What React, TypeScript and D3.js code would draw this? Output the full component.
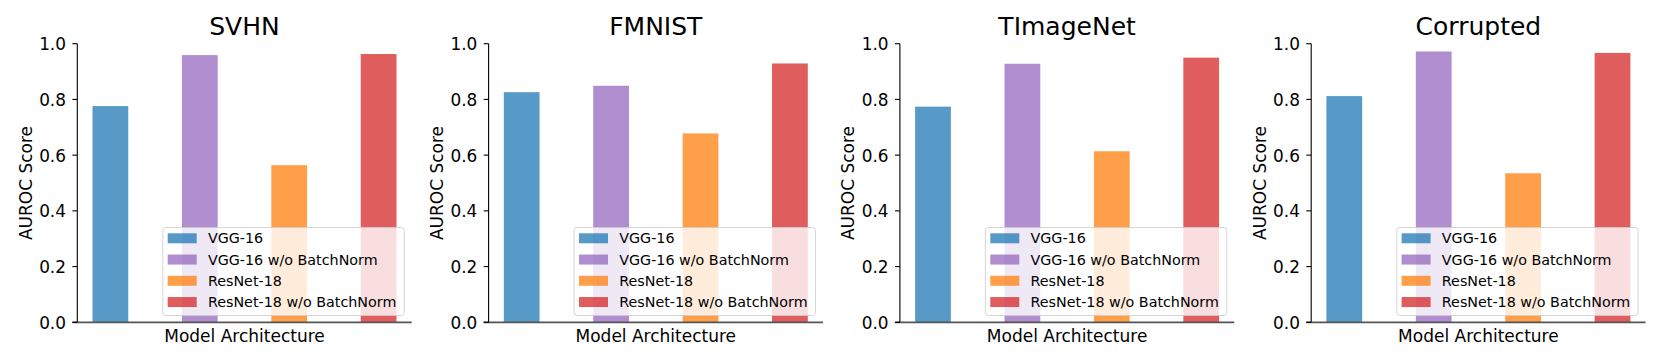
import React, { useEffect } from 'react';
import * as d3 from 'd3';

// datasets (one subplot each) and the model series
const datasets = ['SVHN', 'FMNIST', 'TImageNet', 'Corrupted'];
const models = ['VGG-16', 'VGG-16 w/o BatchNorm', 'ResNet-18', 'ResNet-18 w/o BatchNorm'];
const vgg16 = [0.776, 0.826, 0.774, 0.812];
const vgg16NoBN = [0.959, 0.849, 0.928, 0.972];
const resnet18 = [0.564, 0.678, 0.614, 0.535];
const resnet18NoBN = [0.963, 0.929, 0.95, 0.967];
const yTicks = [0, 0.2, 0.4, 0.6, 0.8, 1.0];
const colors = ['#1f77b4', '#9467bd', '#ff7f0e', '#d62728'];

const W = 1661;
const H = 363;
const FONT = 'DejaVu Sans, sans-serif';

// subplot geometry (px)
const firstLeft = 77.3;
const panelStep = 411.3;
const axW = 334.4;
const axTop = 43.7;
const axBottom = 322.3;

const Panel = ({ idx }: { idx: number }) => {
  const name = datasets[idx];
  const values = [vgg16[idx], vgg16NoBN[idx], resnet18[idx], resnet18NoBN[idx]];

  // bars at 0..3 with width 0.4, matplotlib-style 5% margins
  const x = d3.scaleLinear().domain([-0.37, 3.37]).range([0, axW]);
  const y = d3.scaleLinear().domain([0, 1]).range([axBottom, axTop]);
  const barW = x(0.4) - x(0);

  const legW = 241.4;
  const legH = 88;
  const legX = axW - 8 - legW;
  const legY = axBottom - 7.3 - legH;

  const cx = axW / 2;

  return (
    <g transform={`translate(${firstLeft + idx * panelStep},0)`}>
      {values.map((v, i) => (
        <rect
          key={i}
          x={x(i) - barW / 2}
          y={y(v)}
          width={barW}
          height={y(0) - y(v)}
          fill={colors[i]}
          fillOpacity={0.75}
        />
      ))}

      {/* legend, lower right */}
      <g transform={`translate(${legX},${legY})`}>
        <rect
          x={0.5}
          y={0.5}
          width={legW}
          height={legH}
          rx={3}
          fill="#fff"
          fillOpacity={0.8}
          stroke="#cccccc"
          strokeOpacity={0.8}
          strokeWidth={1}
        />
        {models.map((m, i) => {
          const cy = 11.3 + i * 21.25;
          return (
            <g key={m}>
              <rect x={5.4} y={cy - 5} width={29} height={10} fill={colors[i]} fillOpacity={0.75} />
              <text
                x={45.6}
                y={cy}
                dy="0.36em"
                fontFamily={FONT}
                fontSize={14.3}
                fill="#000"
              >
                {m}
              </text>
            </g>
          );
        })}
      </g>

      {/* spines */}
      <line x1={-5} x2={axW} y1={axBottom} y2={axBottom} stroke="#555" strokeWidth={1.7} />
      <line x1={0} x2={0} y1={axTop} y2={axBottom} stroke="#000" strokeWidth={1.1} />

      {/* y ticks */}
      {yTicks.map((t) => (
        <g key={t}>
          <line x1={-4.9} x2={0} y1={y(t)} y2={y(t)} stroke="#000" strokeWidth={1.1} />
          <text
            x={-11.3}
            y={y(t)}
            dy="0.39em"
            textAnchor="end"
            fontFamily={FONT}
            fontSize={16.9}
            fill="#000"
          >
            {d3.format('.1f')(t)}
          </text>
        </g>
      ))}

      {/* labels */}
      <text
        transform={`translate(${31.7 - firstLeft},${(axTop + axBottom) / 2}) rotate(-90)`}
        textAnchor="middle"
        fontFamily={FONT}
        fontSize={17}
        fill="#000"
      >
        AUROC Score
      </text>
      <text x={cx} y={342} textAnchor="middle" fontFamily={FONT} fontSize={17} fill="#000">
        Model Architecture
      </text>
      <text x={cx} y={35} textAnchor="middle" fontFamily={FONT} fontSize={25} fill="#000">
        {name}
      </text>
    </g>
  );
};

export default function App() {
  useEffect(() => {
    document.body.style.margin = '0';
  }, []);

  return (
    <svg width={W} height={H} style={{ display: 'block', background: '#fff' }}>
      <rect width={W} height={H} fill="#fff" />
      {datasets.map((d, i) => (
        <Panel key={d} idx={i} />
      ))}
    </svg>
  );
}
